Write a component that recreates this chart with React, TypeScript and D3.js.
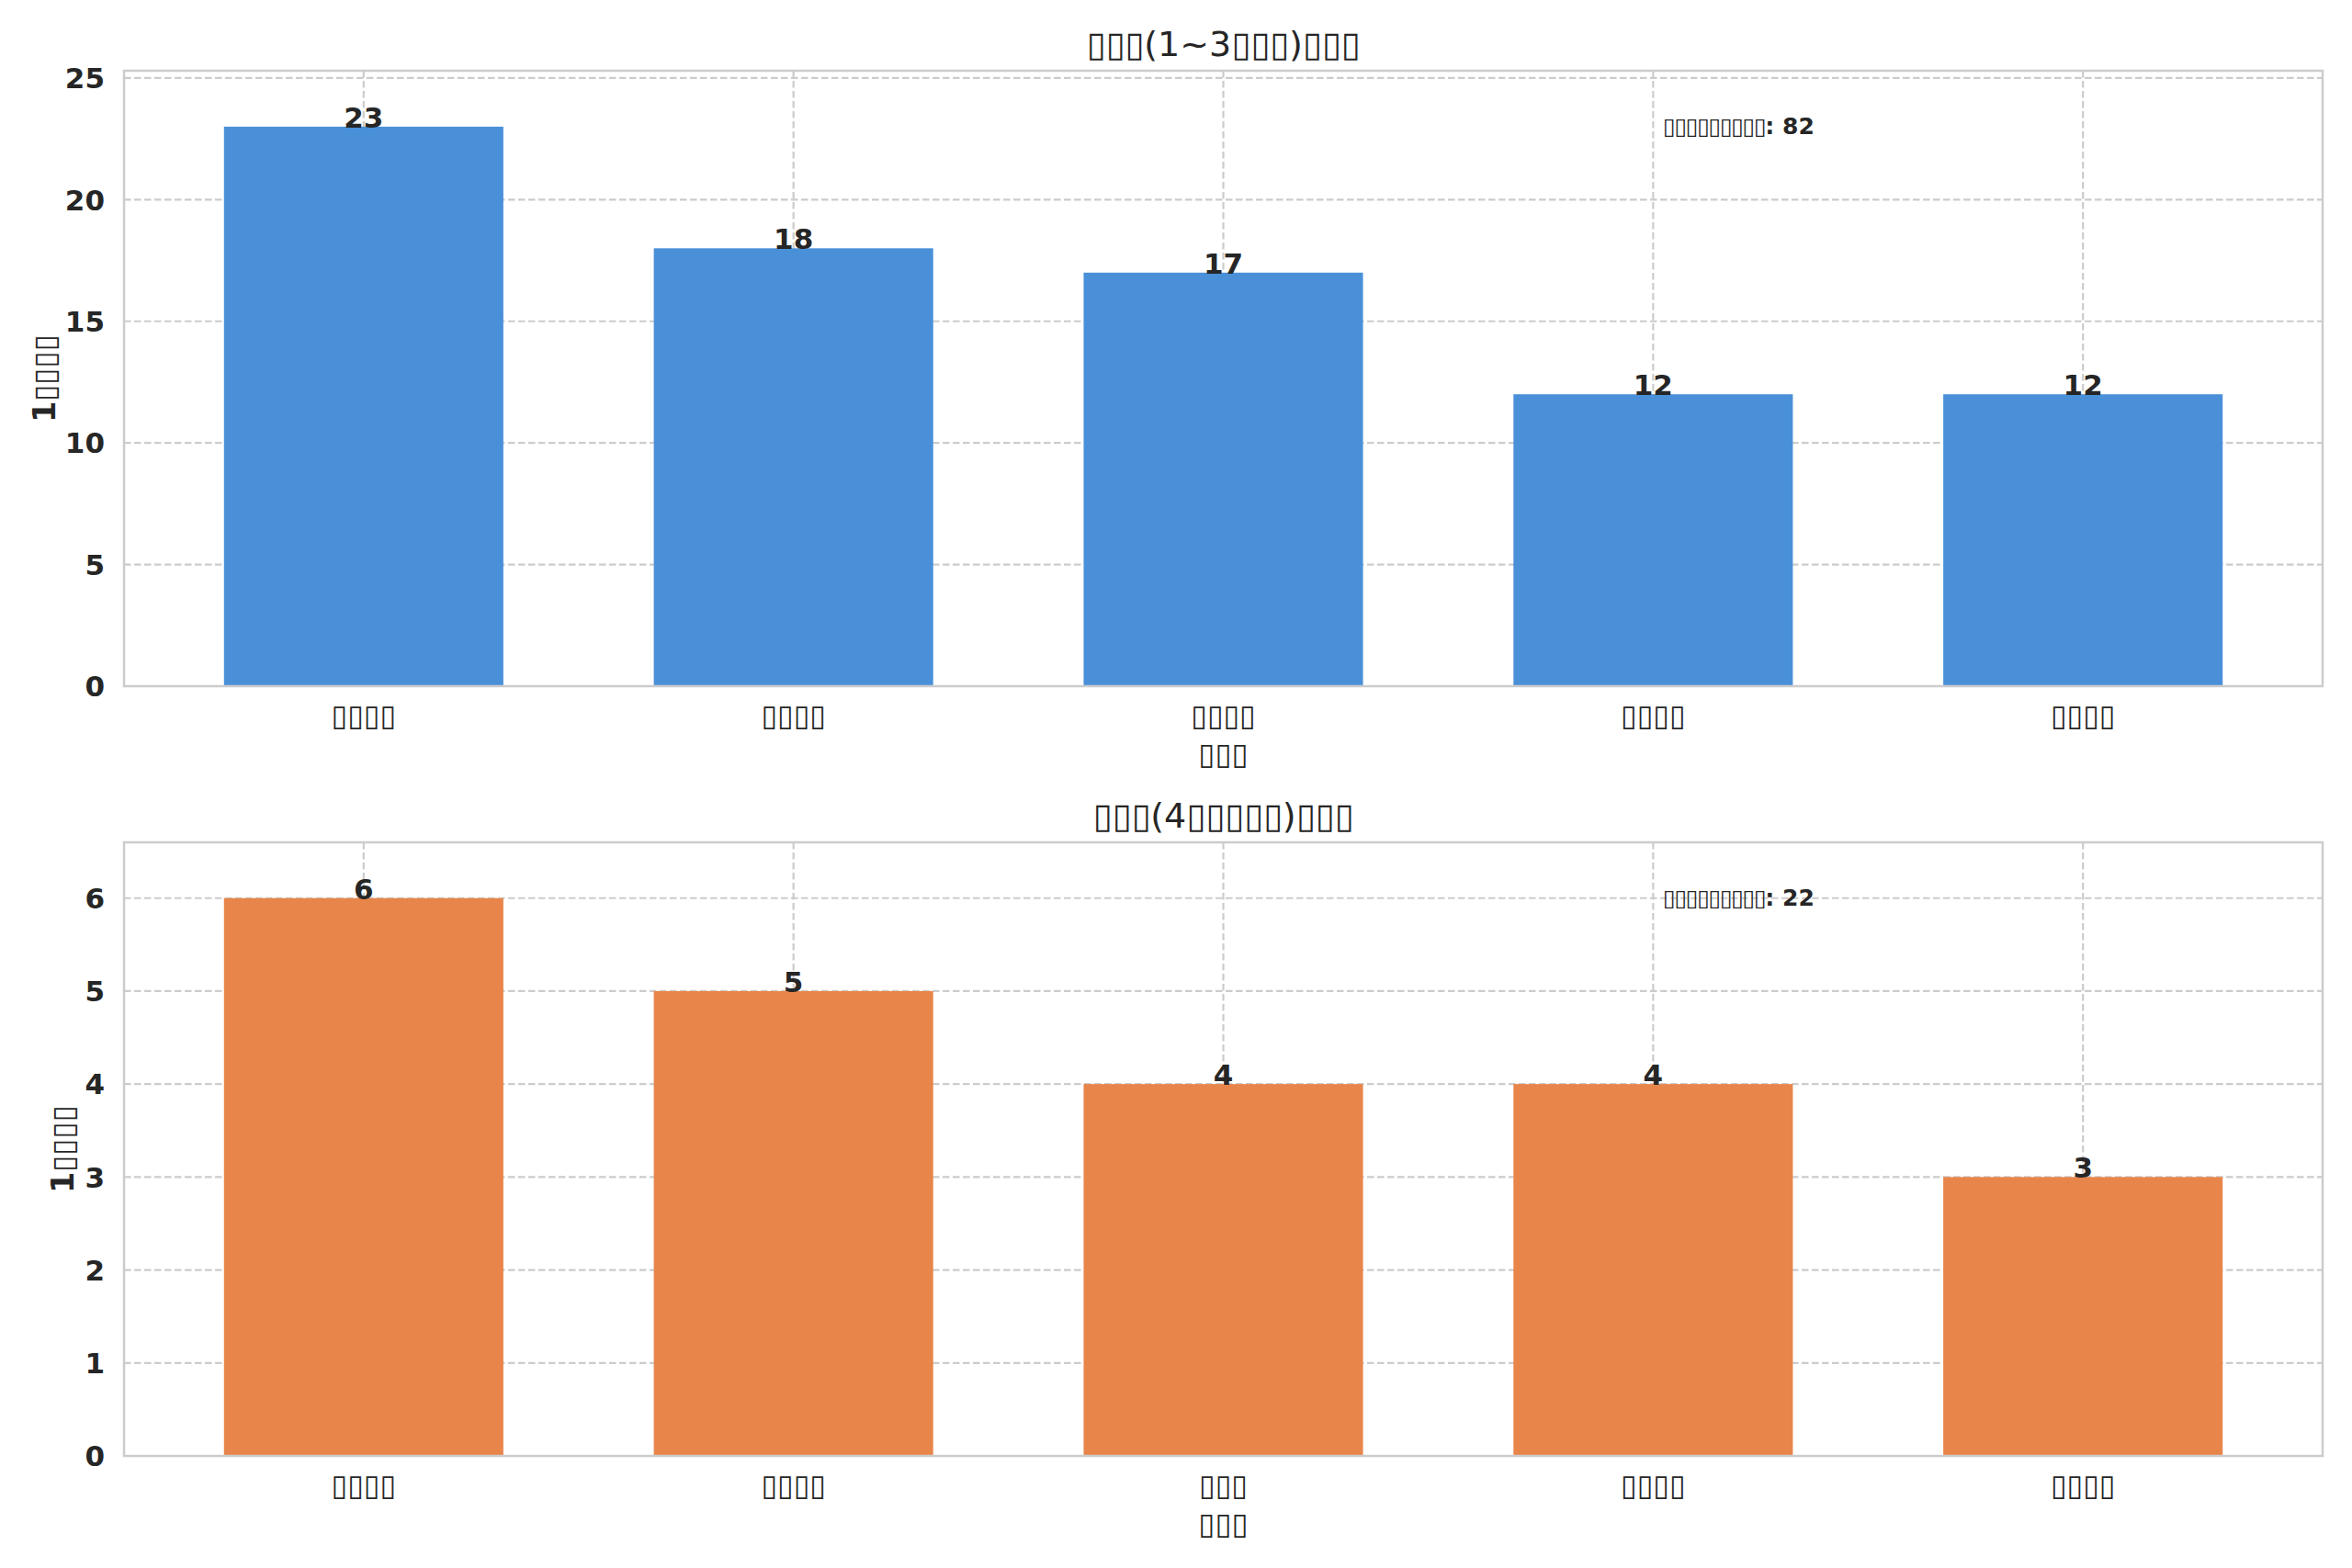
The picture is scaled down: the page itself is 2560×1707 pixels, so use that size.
import { useEffect, useRef } from "react";
import * as d3 from "d3";

// chart data (labels rendered as missing-glyph boxes in the source)
const topTitle = "▯▯▯(1~3▯▯▯)▯▯▯";
const topCategories = ["▯▯▯▯", "▯▯▯▯", "▯▯▯▯", "▯▯▯▯", "▯▯▯▯"];
const topValues = [23, 18, 17, 12, 12];
const topTicks = [0, 5, 10, 15, 20, 25];
const topTotal = 82;

const bottomTitle = "▯▯▯(4▯▯▯▯▯)▯▯▯";
const bottomCategories = ["▯▯▯▯", "▯▯▯▯", "▯▯▯", "▯▯▯▯", "▯▯▯▯"];
const bottomValues = [6, 5, 4, 4, 3];
const bottomTicks = [0, 1, 2, 3, 4, 5, 6];
const bottomTotal = 22;

const xLabel = "▯▯▯";
const yLabel = "1▯▯▯▯";
const noteLabel = "▯▯▯▯▯▯▯▯▯";

const WIDTH = 2560;
const HEIGHT = 1707;
const FONT = "'DejaVu Sans', sans-serif";
const TEXT = "#262626";
const GRID = "#cccccc";

type Panel = {
  title: string;
  categories: string[];
  values: number[];
  ticks: number[];
  total: number;
  color: string;
  top: number;
  bottom: number;
  yLabelX: number;
};

function App() {
  const svgRef = useRef<SVGSVGElement>(null);

  useEffect(() => {
    if (!svgRef.current) return;
    const svg = d3.select(svgRef.current);
    svg.selectAll("*").remove();

    svg.append("rect").attr("width", WIDTH).attr("height", HEIGHT).attr("fill", "#ffffff");

    const left = 135;
    const right = 2528;

    const panels: Panel[] = [
      { title: topTitle, categories: topCategories, values: topValues, ticks: topTicks, total: topTotal, color: "#4a90d9", top: 77, bottom: 747, yLabelX: 48 },
      { title: bottomTitle, categories: bottomCategories, values: bottomValues, ticks: bottomTicks, total: bottomTotal, color: "#e8854a", top: 917, bottom: 1585, yLabelX: 68 },
    ];

    panels.forEach((p) => {
      const barWidth = 0.65;
      const n = p.categories.length;
      const span = n - 1 + barWidth;
      const pad = span * 0.05;
      const x = d3
        .scaleLinear()
        .domain([-barWidth / 2 - pad, n - 1 + barWidth / 2 + pad])
        .range([left, right]);
      const y = d3
        .scaleLinear()
        .domain([0, (d3.max(p.values) || 0) * 1.1])
        .range([p.bottom, p.top]);

      const g = svg.append("g");

      // grid lines
      g.selectAll(".hgrid")
        .data(p.ticks)
        .join("line")
        .attr("x1", left)
        .attr("x2", right)
        .attr("y1", (d) => y(d))
        .attr("y2", (d) => y(d))
        .attr("stroke", GRID)
        .attr("stroke-width", 2.2)
        .attr("stroke-dasharray", "7.5,3.5");

      g.selectAll(".vgrid")
        .data(p.categories)
        .join("line")
        .attr("x1", (_, i) => x(i))
        .attr("x2", (_, i) => x(i))
        .attr("y1", p.top)
        .attr("y2", p.bottom)
        .attr("stroke", GRID)
        .attr("stroke-width", 2.2)
        .attr("stroke-dasharray", "7.5,3.5");

      // bars
      g.selectAll(".bar")
        .data(p.values)
        .join("rect")
        .attr("x", (_, i) => x(i - barWidth / 2))
        .attr("y", (d) => y(d))
        .attr("width", x(barWidth) - x(0))
        .attr("height", (d) => p.bottom - y(d))
        .attr("fill", p.color);

      // value labels
      g.selectAll(".val")
        .data(p.values)
        .join("text")
        .attr("x", (_, i) => x(i))
        .attr("y", (d) => y(d) + 1)
        .attr("text-anchor", "middle")
        .attr("font-family", FONT)
        .attr("font-weight", "bold")
        .attr("font-size", 31)
        .attr("fill", TEXT)
        .text((d) => d);

      // frame
      g.append("rect")
        .attr("x", left)
        .attr("y", p.top)
        .attr("width", right - left)
        .attr("height", p.bottom - p.top)
        .attr("fill", "none")
        .attr("stroke", GRID)
        .attr("stroke-width", 2.5);

      // y tick labels
      g.selectAll(".ytick")
        .data(p.ticks)
        .join("text")
        .attr("x", 114)
        .attr("y", (d) => y(d))
        .attr("dy", "0.36em")
        .attr("text-anchor", "end")
        .attr("font-family", FONT)
        .attr("font-weight", "bold")
        .attr("font-size", 31)
        .attr("fill", TEXT)
        .text((d) => d);

      // x tick labels
      g.selectAll(".xtick")
        .data(p.categories)
        .join("text")
        .attr("x", (_, i) => x(i))
        .attr("y", p.bottom + 31)
        .attr("dy", "0.36em")
        .attr("text-anchor", "middle")
        .attr("font-family", FONT)
        .attr("font-size", 32)
        .attr("fill", TEXT)
        .text((d) => d);

      // axis labels
      g.append("text")
        .attr("x", (left + right) / 2)
        .attr("y", p.bottom + 73)
        .attr("dy", "0.36em")
        .attr("text-anchor", "middle")
        .attr("font-family", FONT)
        .attr("font-size", 33)
        .attr("fill", TEXT)
        .text(xLabel);

      g.append("text")
        .attr("transform", `translate(${p.yLabelX},${(p.top + p.bottom) / 2}) rotate(-90)`)
        .attr("dy", "0.36em")
        .attr("text-anchor", "middle")
        .attr("font-family", FONT)
        .attr("font-weight", "bold")
        .attr("font-size", 33)
        .attr("fill", TEXT)
        .text(yLabel);

      // title
      g.append("text")
        .attr("x", (left + right) / 2)
        .attr("y", p.top - 16)
        .attr("text-anchor", "middle")
        .attr("font-family", FONT)
        .attr("font-size", 38)
        .attr("fill", TEXT)
        .text(p.title);

      // total note
      const note = g
        .append("text")
        .attr("x", left + 0.7 * (right - left))
        .attr("y", p.top + 0.09 * (p.bottom - p.top))
        .attr("dy", "0.36em")
        .attr("font-family", FONT)
        .attr("font-weight", "bold")
        .attr("font-size", 25)
        .attr("fill", TEXT);
      note.append("tspan").attr("letter-spacing", -1.4).text(noteLabel);
      note.append("tspan").text(`: ${p.total}`);
    });
  }, []);

  return (
    <svg
      ref={svgRef}
      width={WIDTH}
      height={HEIGHT}
      style={{ position: "absolute", left: 0, top: 0, display: "block" }}
    ></svg>
  );
}

export default App;
